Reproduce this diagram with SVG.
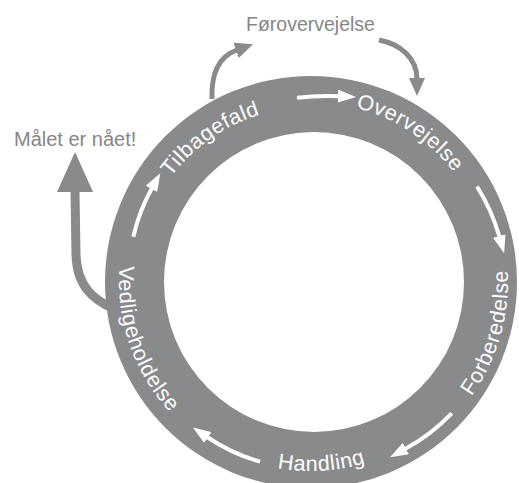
<svg xmlns="http://www.w3.org/2000/svg" width="519" height="483" viewBox="0 0 519 483">
<style>
.ring{fill:#898a8c;fill-rule:evenodd}
.lbl{font-family:"Liberation Sans",Arial,sans-serif;font-size:21.5px;letter-spacing:0.6px;fill:#ffffff}
.out{font-family:"Liberation Sans",Arial,sans-serif;font-size:20px;fill:#858688}
.wa{fill:none;stroke:#ffffff;stroke-width:4}
.ga{fill:none;stroke:#898a8c;stroke-width:5}
</style>
<defs>
<path id="pT" d="M136.7,297.3 A175,175 0 0 1 385.0,123.4"/>
<path id="pO" d="M230.7,120.9 A180,180 0 0 1 490.7,293.0"/>
<path id="pF" d="M358.7,473.1 A197,197 0 0 0 452.7,145.1"/>
<path id="pH" d="M153.0,385.8 A189,189 0 0 0 479.9,366.9"/>
<path id="pV" d="M166.1,156.0 A192,192 0 0 0 274.4,470.5"/>
<marker id="mw" viewBox="0 0 18 13" refX="1" refY="6.5" markerWidth="18" markerHeight="13" markerUnits="userSpaceOnUse" orient="auto"><path d="M0,0 L18,6.5 L0,13 Z" fill="#ffffff"/></marker>
<marker id="mg" viewBox="0 0 18 16" refX="1" refY="8" markerWidth="18" markerHeight="16" markerUnits="userSpaceOnUse" orient="auto"><path d="M0,0 L18,8 L0,16 Z" fill="#898a8c"/></marker>
</defs>
<g id="cycle">
<path class="ring" d="M105,282 a206,206 0 1,0 412,0 a206,206 0 1,0 -412,0 Z M164,282 a150,150 0 1,0 300,0 a150,150 0 1,0 -300,0 Z"/>
</g>
<g id="connectors">
<path class="wa" d="M297,97.8 Q318,95.2 339,96.2" marker-end="url(#mw)"/>
<path class="wa" d="M477,186.5 A193,193 0 0 1 499.5,237" marker-end="url(#mw)"/>
<path class="wa" d="M451.7,413.3 A192,192 0 0 1 405,449" marker-end="url(#mw)"/>
<path class="wa" d="M260,461.7 A187,187 0 0 1 207,437" marker-end="url(#mw)"/>
<path class="wa" d="M133.3,236.7 A184,184 0 0 1 152,188" marker-end="url(#mw)"/>
<path class="ga" d="M212,99 C211,72 220,56 237,50" marker-end="url(#mg)"/>
<path class="ga" d="M379,40 C400,44 417,58 417,79" marker-end="url(#mg)"/>
<path fill="none" stroke="#898a8c" stroke-width="9" d="M114,309 C94,300 77,287 76,255 L75,190"/>
<polygon fill="#898a8c" points="57,192 93,192 75,152"/>
</g>
<g id="node-tilbagefald"><text class="lbl"><textPath href="#pT" startOffset="50%" text-anchor="middle">Tilbagefald</textPath></text></g>
<g id="node-overvejelse"><text class="lbl"><textPath href="#pO" startOffset="50%" text-anchor="middle">Overvejelse</textPath></text></g>
<g id="node-forberedelse"><text class="lbl"><textPath href="#pF" startOffset="50%" text-anchor="middle">Forberedelse</textPath></text></g>
<g id="node-handling"><text class="lbl"><textPath href="#pH" startOffset="50%" text-anchor="middle">Handling</textPath></text></g>
<g id="node-vedligeholdelse"><text class="lbl"><textPath href="#pV" startOffset="50%" text-anchor="middle">Vedligeholdelse</textPath></text></g>
<g id="node-forovervejelse"><text class="out" x="246" y="31" style="font-size:19.5px">Førovervejelse</text></g>
<g id="node-maalet"><text class="out" x="14" y="146">Målet er nået!</text></g>
</svg>
